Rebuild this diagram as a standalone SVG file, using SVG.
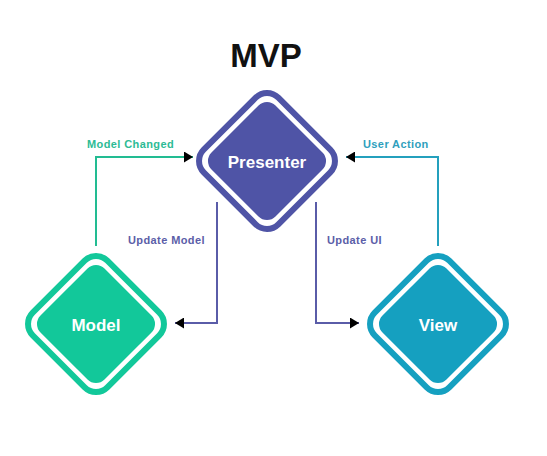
<svg xmlns="http://www.w3.org/2000/svg" width="547" height="456" viewBox="0 0 547 456">
<style>
.ring{fill:none;stroke-width:6}
.lbl{font-family:"Liberation Sans",Arial,sans-serif;font-weight:bold;fill:#fff;font-size:17px;text-anchor:middle}
.ctext{font-family:"Liberation Sans",Arial,sans-serif;font-weight:bold;font-size:11px;letter-spacing:0.4px}
.conn{fill:none;stroke-width:2}
</style>
<defs>
<marker id="arr" viewBox="0 0 9 11" refX="9" refY="5.5" markerWidth="9" markerHeight="11" markerUnits="userSpaceOnUse" orient="auto">
<path d="M0,0 L9,5.5 L0,11 Z" fill="#000"/>
</marker>
</defs>
<rect width="547" height="456" fill="#fff"/>
<text x="266" y="67" font-family="Liberation Sans,Arial,sans-serif" font-weight="bold" font-size="33" text-anchor="middle" fill="#111">MVP</text>

<g id="connectors">
<path class="conn" stroke="#22bc92" d="M96,246 V157 H193" marker-end="url(#arr)"/>
<path class="conn" stroke="#5a5ca8" d="M217,202 V323 H175" marker-end="url(#arr)"/>
<path class="conn" stroke="#5a5ca8" d="M316,202 V323 H359" marker-end="url(#arr)"/>
<path class="conn" stroke="#24a0bd" d="M438,246 V157 H346" marker-end="url(#arr)"/>
<text class="ctext" x="87" y="148" fill="#2dbb95">Model Changed</text>
<text class="ctext" x="128" y="244" fill="#5b5ea8">Update Model</text>
<text class="ctext" x="327" y="244" fill="#5b5ea8">Update UI</text>
<text class="ctext" x="363" y="148" fill="#2f9fbd">User Action</text>
</g>

<g id="presenter">
<g transform="translate(267,161) rotate(45)">
<rect class="ring" x="-52.75" y="-52.75" width="105.5" height="105.5" rx="16" stroke="#4f54a6"/>
<rect x="-45.25" y="-45.25" width="90.5" height="90.5" rx="12" fill="#4f54a6"/>
</g>
<text class="lbl" x="267" y="168">Presenter</text>
</g>

<g id="model">
<g transform="translate(96,324) rotate(45)">
<rect class="ring" x="-52.75" y="-52.75" width="105.5" height="105.5" rx="16" stroke="#12c89a"/>
<rect x="-45.25" y="-45.25" width="90.5" height="90.5" rx="12" fill="#12c89a"/>
</g>
<text class="lbl" x="96" y="331">Model</text>
</g>

<g id="view">
<g transform="translate(438,324) rotate(45)">
<rect class="ring" x="-52.75" y="-52.75" width="105.5" height="105.5" rx="16" stroke="#15a0c0"/>
<rect x="-45.25" y="-45.25" width="90.5" height="90.5" rx="12" fill="#15a0c0"/>
</g>
<text class="lbl" x="438" y="331">View</text>
</g>
</svg>
